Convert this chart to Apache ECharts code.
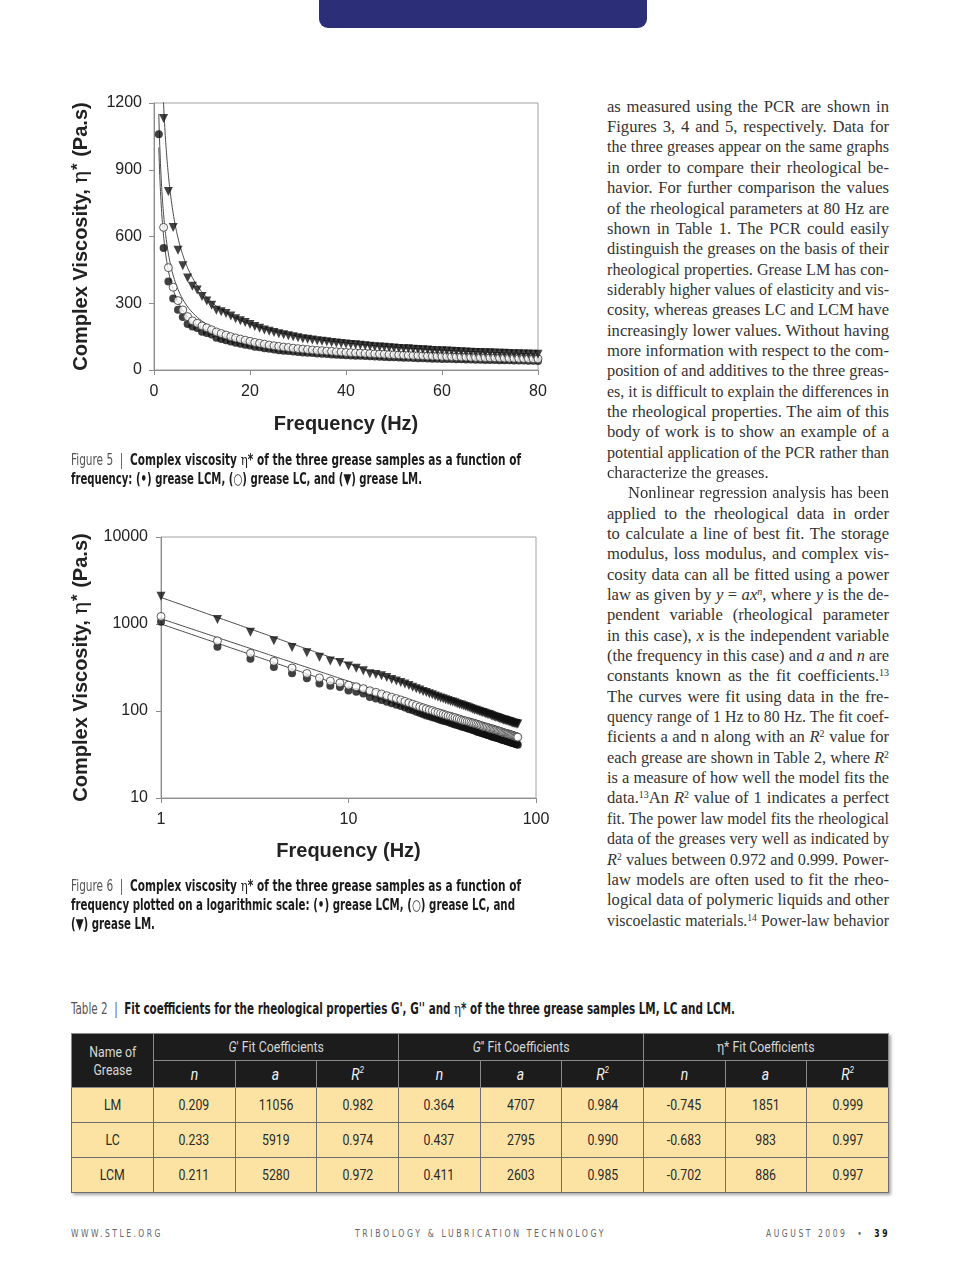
<!DOCTYPE html>
<html><head><meta charset="utf-8">
<script src="https://cdn.jsdelivr.net/npm/echarts@6/dist/echarts.min.js"></script>
<style>
html,body{margin:0;padding:0;background:#fff;}
body{width:960px;height:1270px;position:relative;overflow:hidden;font-family:'Liberation Sans',Arial,sans-serif;}
#tab{position:absolute;left:319px;top:-12px;width:328px;height:40px;background:#2c2f78;border-radius:0 0 9px 9px;}
#chart{position:absolute;left:0;top:0;width:600px;height:960px;}
.fit{position:absolute;white-space:nowrap;transform-origin:0 50%;}
.cap{font-family:'DejaVu Sans Condensed','Liberation Sans Narrow','DejaVu Sans',sans-serif;font-size:15px;line-height:19px;color:#1a1a1a;font-weight:bold;}
.cap .lb{font-weight:normal;color:#555;}
.eta{font-family:'DejaVu Serif',serif;font-weight:normal;}
.foot{font-family:'DejaVu Sans Condensed','DejaVu Sans',sans-serif;font-size:10px;line-height:14px;color:#666;letter-spacing:3px;}
.foot b{color:#111;}
#col{position:absolute;left:607px;top:96.8px;width:282px;font-family:'Liberation Serif','Times New Roman',serif;font-size:16px;color:#333;}
#col div.ln{line-height:20.35px;height:20.35px;text-align:justify;text-align-last:justify;transform-origin:0 0;}
#col div.last{text-align-last:left;}
#col sup{font-size:0.6em;line-height:0;vertical-align:0.55em;}
#tbl{position:absolute;left:71px;top:1033px;border-collapse:collapse;table-layout:fixed;width:818px;box-shadow:2px 2px 3px rgba(0,0,0,0.35);}
#tbl th{background:#1c1c1c;color:#d6d6d6;font-weight:normal;border:1px solid #8a8a8a;padding:0;text-align:center;font-family:Roboto,sans-serif;font-size:15px;}
#tbl td{background:#fce3a3;border:1px solid #6e6e6e;text-align:center;color:#2a2a2a;padding:0;font-family:Roboto,sans-serif;font-size:15px;}
#tbl .sq{display:inline-block;transform:scaleX(0.82);white-space:nowrap;}
#tbl .hi{font-style:italic;color:#f2f2f2;font-size:17px;}
</style></head>
<body>
<div id="tab"></div>
<div id="chart"></div>

<div class="fit cap" style="left:71px;top:451px" data-w="450"><span class="lb">Figure 5&nbsp; |&nbsp; </span>Complex viscosity <span class="eta">η</span>* of the three grease samples as a function of</div>
<div class="fit cap" style="left:71px;top:470px" data-w="351">frequency: (•) grease LCM, (○) grease LC, and (▼) grease LM.</div>
<div class="fit cap" style="left:71px;top:877px" data-w="450"><span class="lb">Figure 6&nbsp; |&nbsp; </span>Complex viscosity <span class="eta">η</span>* of the three grease samples as a function of</div>
<div class="fit cap" style="left:71px;top:896px" data-w="444">frequency plotted on a logarithmic scale: (•) grease LCM, (○) grease LC, and</div>
<div class="fit cap" style="left:71px;top:915px" data-w="84">(▼) grease LM.</div>
<div class="fit cap" style="left:71px;top:1000px" data-w="664"><span class="lb">Table 2&nbsp; |&nbsp; </span>Fit coefficients for the rheological properties G', G'' and <span class="eta">η</span>* of the three grease samples LM, LC and LCM.</div>

<div id="col"></div>

<table id="tbl"><thead></thead><tbody></tbody></table>

<div class="fit foot" style="left:71px;top:1227px" data-w="92">WWW.STLE.ORG</div>
<div class="fit foot" style="left:355px;top:1227px" data-w="251">TRIBOLOGY &amp; LUBRICATION TECHNOLOGY</div>
<div class="fit foot" style="left:766px;top:1227px" data-w="124">AUGUST 2009 &nbsp;• &nbsp;<b>39</b></div>

<script>
// ---------------- data ----------------
const freq = [1,2,3,4,5,6,7,8,9,10,11,12,13,14,15,16,17,18,19,20,21,22,23,24,25,26,27,28,29,30,31,32,33,34,35,36,37,38,39,40,41,42,43,44,45,46,47,48,49,50,51,52,53,54,55,56,57,58,59,60,61,62,63,64,65,66,67,68,69,70,71,72,73,74,75,76,77,78,79,80];
// grease LCM (filled circles)
const etaLCM = [1060,548,398,321,271,238,207,195,189,172,166,159,145,139,134,128,123,118,114,110,105,102,98,95,92,89,87,85,83,81,79,77.5,76,74.5,73,71.5,70,69,67.5,66.5,65.5,64.5,63.5,62.5,61.5,60.5,59.5,58.5,57.5,57,56,55.5,54.5,54,53,52.5,52,51,50.5,50,49.5,49,48.5,48,47.3,46.8,46.4,46,45.5,45,44.6,44.2,43.8,43.4,43,42.6,42.2,41.8,41.4,41];
// grease LC (open circles)
const etaLC = [1222,641,460,372,312,270,240,221,210,198,190,181,171,164,157,150,144,139,134,129,124,120,116,112,109,106,103,101,98,96,94,92,90,88,87,85,84,82,81,79,78,77,76,75,74,73,72,71,70,69,68,67,66,65.5,65,64,63,62.5,62,61,60.5,60,59,58.5,58,57,56.5,56,55.5,55,54.5,54,53.5,53,52.5,52,51.5,51,50.5,50];
// grease LM (filled down triangles)
const etaLM = [2090,1130,802,641,538,468,414,376,360,330,310,291,268,262,254,243,230,221,213,204,196,188,180,174,168,163,158,154,149,145,141,138,135,132,129,127,124,121,119,117,115,113,111,109,107,105,103,102,100,99,97,96,95,93,92,91,90,88,87,86,85,84,83,82,81,80,79,79,78,77,76,75,75,74,73,73,72,72,71,71];
// power-law fit lines y = a*x^n as plotted (LCM, LC, LM)
const fitA = [1000, 1150, 2020];
const fitN = [-0.735, -0.718, -0.761];
const linYTicks = [0, 300, 600, 900, 1200];
const linXTicks = [0, 20, 40, 60, 80];
const logYTicks = [10, 100, 1000, 10000];
const logXTicks = [1, 10, 100];

// Table 2
const greaseNames = ['LM', 'LC', 'LCM'];
const gpN  = ['0.209', '0.233', '0.211'];
const gpA  = ['11056', '5919', '5280'];
const gpR2 = ['0.982', '0.974', '0.972'];
const gppN  = ['0.364', '0.437', '0.411'];
const gppA  = ['4707', '2795', '2603'];
const gppR2 = ['0.984', '0.990', '0.985'];
const etaN  = ['-0.745', '-0.683', '-0.702'];
const etaA  = ['1851', '983', '886'];
const etaR2 = ['0.999', '0.997', '0.997'];

// body text lines
const bodyLines = [
 ['as measured using the PCR are shown in',''],
 ['Figures 3, 4 and 5, respectively. Data for',''],
 ['the three greases appear on the same graphs',''],
 ['in order to compare their rheological be-',''],
 ['havior. For further comparison the values',''],
 ['of the rheological parameters at 80 Hz are',''],
 ['shown in Table 1. The PCR could easily',''],
 ['distinguish the greases on the basis of their',''],
 ['rheological properties. Grease LM has con-',''],
 ['siderably higher values of elasticity and vis-',''],
 ['cosity, whereas greases LC and LCM have',''],
 ['increasingly lower values. Without having',''],
 ['more information with respect to the com-',''],
 ['position of and additives to the three greas-',''],
 ['es, it is difficult to explain the differences in',''],
 ['the rheological properties. The aim of this',''],
 ['body of work is to show an example of a',''],
 ['potential application of the PCR rather than',''],
 ['characterize the greases.','last'],
 ['Nonlinear regression analysis has been','ind'],
 ['applied to the rheological data in order',''],
 ['to calculate a line of best fit. The storage',''],
 ['modulus, loss modulus, and complex vis-',''],
 ['cosity data can all be fitted using a power',''],
 ['law as given by <i>y</i> = <i>ax<sup>n</sup></i>, where <i>y</i> is the de-',''],
 ['pendent variable (rheological parameter',''],
 ['in this case), <i>x</i> is the independent variable',''],
 ['(the frequency in this case) and <i>a</i> and <i>n</i> are',''],
 ['constants known as the fit coefficients.<sup>13</sup>',''],
 ['The curves were fit using data in the fre-',''],
 ['quency range of 1 Hz to 80 Hz. The fit coef-',''],
 ['ficients a and n along with an <i>R</i><sup>2</sup> value for',''],
 ['each grease are shown in Table 2, where <i>R</i><sup>2</sup>',''],
 ['is a measure of how well the model fits the',''],
 ['data.<sup>13</sup>An <i>R</i><sup>2</sup> value of 1 indicates a perfect',''],
 ['fit. The power law model fits the rheological',''],
 ['data of the greases very well as indicated by',''],
 ['<i>R</i><sup>2</sup> values between 0.972 and 0.999. Power-',''],
 ['law models are often used to fit the rheo-',''],
 ['logical data of polymeric liquids and other',''],
 ['viscoelastic materials.<sup>14</sup> Power-law behavior','']
];

// ---------------- body text column ----------------
(function(){
  const col = document.getElementById('col');
  const W = 282, IND = 21;
  const probe = document.createElement('span');
  probe.style.cssText = 'position:absolute;visibility:hidden;white-space:nowrap;';
  col.appendChild(probe);
  const ratios = bodyLines.map(([t, c]) => {
    probe.innerHTML = t;
    const nat = probe.getBoundingClientRect().width;
    return (W - (c === 'ind' ? IND : 0)) / nat;
  });
  col.removeChild(probe);
  const sorted = ratios.filter((r, i) => bodyLines[i][1] !== 'last').sort((a, b) => a - b);
  const sT = sorted[Math.floor(sorted.length * 0.4)];
  bodyLines.forEach(([t, c], i) => {
    const s = Math.min(sT, ratios[i] * 0.998);
    const d = document.createElement('div');
    d.className = 'ln' + (c ? ' ' + c : '');
    d.style.width = (W / s) + 'px';
    d.style.transform = 'scaleX(' + s + ')';
    if (c === 'ind') d.style.paddingLeft = (IND / s) + 'px';
    d.style.boxSizing = 'border-box';
    d.innerHTML = t;
    col.appendChild(d);
  });
})();

// ---------------- table ----------------
(function(){
  const thead = document.querySelector('#tbl thead');
  const tbody = document.querySelector('#tbl tbody');
  const sq = t => '<span class="sq">' + t + '</span>';
  let h1 = '<tr style="height:27px"><th rowspan="2" style="width:81px">' + sq('Name of<br>Grease') + '</th>' +
    '<th colspan="3">' + sq("<i>G</i>' Fit Coefficients") + '</th>' +
    '<th colspan="3">' + sq("<i>G</i>'' Fit Coefficients") + '</th>' +
    '<th colspan="3">' + sq('<span class="eta">η</span>* Fit Coefficients') + '</th></tr>';
  let h2 = '<tr style="height:27px">';
  for (let g = 0; g < 3; g++) {
    h2 += '<th class="hi">' + sq('n') + '</th><th class="hi">' + sq('a') + '</th><th class="hi">' + sq('R<sup style="font-size:0.55em">2</sup>') + '</th>';
  }
  h2 += '</tr>';
  thead.innerHTML = h1 + h2;
  let body = '';
  greaseNames.forEach((g, i) => {
    body += '<tr style="height:35px"><td>' + sq(g) + '</td>' +
      [gpN[i], gpA[i], gpR2[i], gppN[i], gppA[i], gppR2[i], etaN[i], etaA[i], etaR2[i]].map(v => '<td>' + sq(v) + '</td>').join('') + '</tr>';
  });
  tbody.innerHTML = body;
})();

// ---------------- width fitting for condensed lines ----------------
document.querySelectorAll('.fit').forEach(el => {
  const w = +el.dataset.w;
  const nat = el.getBoundingClientRect().width;
  el.style.transform = 'scaleX(' + (w / nat) + ')';
});

// ---------------- charts ----------------
const fitX = [];
for (let i = 0; i <= 1580; i++) fitX.push(1 + i * 0.05);
const fitLine = k => fitX.map(x => [x, fitA[k] * Math.pow(x, fitN[k])]);
const pts = arr => freq.map((f, i) => [f, arr[i]]);

const chart = echarts.init(document.getElementById('chart'), null, {renderer: 'canvas'});
const AX = '#8c8c8c';
const labelStyle = {fontSize: 16, color: '#222', fontFamily: 'Liberation Sans, Arial, sans-serif'};
const nameStyle = {fontSize: 20, fontWeight: 'bold', color: '#222', fontFamily: 'Liberation Sans, Arial, sans-serif'};
const yName = '{b|Complex Viscosity, }{e|η}{s|*}{b| (Pa.s)}';
const yNameStyle = {
  color: '#222',
  rich: {
    b: {fontSize: 20, fontWeight: 'bold', color: '#222', fontFamily: 'Liberation Sans, Arial, sans-serif'},
    e: {fontSize: 21, color: '#222', fontFamily: 'DejaVu Serif, serif'},
    s: {fontSize: 17, fontWeight: 'bold', color: '#222', fontFamily: 'Liberation Sans, Arial, sans-serif', verticalAlign: 'top', padding: [0, 1, 6, 1]}
  }
};
const plain = v => String(Math.round(v));
function axisCommon() {
  return {
    axisLine: {show: true, lineStyle: {color: AX, width: 1}},
    axisTick: {show: true, length: 5, lineStyle: {color: AX}},
    splitLine: {show: false},
    minorTick: {show: false}
  };
}
const fitSeries = (k, xi) => ({
  type: 'line', xAxisIndex: xi, yAxisIndex: xi, data: fitLine(k), showSymbol: false, symbol: 'none',
  lineStyle: {color: '#4a4a4a', width: 1}, silent: true, z: 2, clip: true, animation: false
});
const scat = (arr, xi, kind) => {
  const base = {type: 'scatter', xAxisIndex: xi, yAxisIndex: xi, data: pts(arr), clip: true, animation: false, z: 3};
  if (kind === 'filled') return Object.assign(base, {symbol: 'circle', symbolSize: 8, itemStyle: {color: '#111'}});
  if (kind === 'open') return Object.assign(base, {symbol: 'circle', symbolSize: 8, itemStyle: {color: '#fff', borderColor: '#333', borderWidth: 1}});
  return Object.assign(base, {symbol: 'triangle', symbolRotate: 180, symbolSize: 9, itemStyle: {color: '#111'}});
};

chart.setOption({
  animation: false,
  grid: [
    {left: 154, top: 103, width: 384, height: 267, show: true, borderColor: '#a0a0a0', borderWidth: 1, backgroundColor: 'transparent'},
    {left: 161, top: 537, width: 375, height: 261, show: true, borderColor: '#a0a0a0', borderWidth: 1, backgroundColor: 'transparent'}
  ],
  xAxis: [
    Object.assign(axisCommon(), {type: 'value', gridIndex: 0, min: linXTicks[0], max: linXTicks[linXTicks.length - 1], interval: 20,
      axisLabel: Object.assign({margin: 14, formatter: plain}, labelStyle),
      name: 'Frequency (Hz)', nameLocation: 'middle', nameGap: 44, nameTextStyle: nameStyle}),
    Object.assign(axisCommon(), {type: 'log', logBase: 10, gridIndex: 1, min: logXTicks[0], max: logXTicks[logXTicks.length - 1],
      axisLabel: Object.assign({margin: 14, formatter: plain}, labelStyle),
      name: 'Frequency (Hz)', nameLocation: 'middle', nameGap: 43, nameTextStyle: nameStyle})
  ],
  yAxis: [
    Object.assign(axisCommon(), {type: 'value', gridIndex: 0, min: linYTicks[0], max: linYTicks[linYTicks.length - 1], interval: 300,
      axisLabel: Object.assign({margin: 12, formatter: plain}, labelStyle),
      name: yName, nameLocation: 'middle', nameRotate: 90, nameGap: 61, nameTextStyle: yNameStyle}),
    Object.assign(axisCommon(), {type: 'log', logBase: 10, gridIndex: 1, min: logYTicks[0], max: logYTicks[logYTicks.length - 1],
      axisLabel: Object.assign({margin: 13, formatter: plain}, labelStyle),
      name: yName, nameLocation: 'middle', nameRotate: 90, nameGap: 68, nameTextStyle: yNameStyle})
  ],
  series: [
    fitSeries(0, 0), fitSeries(1, 0), fitSeries(2, 0),
    scat(etaLCM, 0, 'filled'), scat(etaLC, 0, 'open'), scat(etaLM, 0, 'tri'),
    fitSeries(0, 1), fitSeries(1, 1), fitSeries(2, 1),
    scat(etaLCM, 1, 'filled'), scat(etaLC, 1, 'open'), scat(etaLM, 1, 'tri')
  ]
});
</script>
</body></html>
